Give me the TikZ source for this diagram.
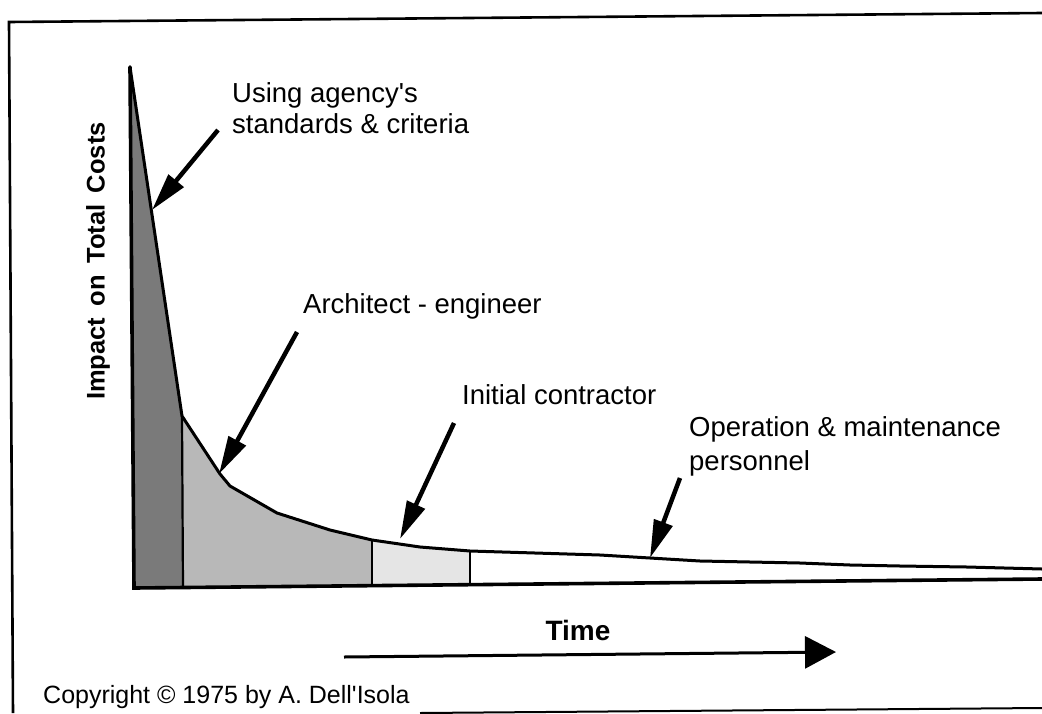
\documentclass[tikz,border=0pt]{standalone}
\usepackage{fontspec}
\setmainfont{Liberation Sans}
\usetikzlibrary{arrows.meta}
\begin{document}
\begin{tikzpicture}[x=1pt,y=-1pt,
  lbl/.style={anchor=base west, inner sep=0pt, font=\fontsize{27.5}{33}\selectfont},
  callout/.style={line width=4.5pt, -{Triangle[length=38pt,width=19pt]}},
  frameline/.style={line width=2.6pt},
  axisline/.style={line width=3.6pt, line cap=round},
  curveline/.style={line width=3pt, line join=round},
  divider/.style={line width=2.2pt},
  darkfill/.style={fill=black!52},
  midfill/.style={fill=black!28},
  lightfill/.style={fill=black!10}
]
\useasboundingbox (0,0) rectangle (1042,713);

% frame
\coordinate (ftl) at (9,22);
\coordinate (ftr) at (1042,13);
\coordinate (fbl) at (13,713);
\coordinate (fbs) at (420,713);
\coordinate (fbr) at (1042,708);
\draw[frameline] (ftr) -- (ftl) -- (fbl);
\draw[line width=2pt] (fbs) -- (fbr);

% curve points
\coordinate (peak) at (130,67);
\coordinate (k1) at (182,416);
\coordinate (c1) at (220,474);
\coordinate (c2) at (230,486);
\coordinate (c3) at (277,513);
\coordinate (c4) at (330,530);
\coordinate (k2) at (372,540);
\coordinate (c5) at (420,547);
\coordinate (k3) at (470,551);
\coordinate (c6) at (600,555);
\coordinate (c7) at (650,558);
\coordinate (c8) at (700,561);
\coordinate (c9) at (750,562);
\coordinate (c10) at (800,563);
\coordinate (c11) at (850,565);
\coordinate (c12) at (900,566);
\coordinate (c13) at (967,567);
\coordinate (cend) at (1042,569);

% axis points
\coordinate (origin) at (134,588);
\coordinate (b1) at (183,587.5);
\coordinate (b2) at (372,585.6);
\coordinate (b3) at (470,584.7);
\coordinate (xend) at (1042,579);

% fills
\fill[darkfill] (peak) -- (k1) -- (b1) -- (origin) -- cycle;
\fill[midfill] (k1) -- (c1) -- (c2) -- (c3) -- (c4) -- (k2) -- (b2) -- (b1) -- cycle;
\fill[lightfill] (k2) -- (c5) -- (k3) -- (b3) -- (b2) -- cycle;

% dividers
\draw[divider] (k1) -- (b1);
\draw[divider] (k2) -- (b2);
\draw[divider] (k3) -- (b3);

% curve
\draw[curveline] (peak) -- (k1) -- (c1) -- (c2) -- (c3) -- (c4) -- (k2) -- (c5) -- (k3) -- (c6) -- (c7) -- (c8) -- (c9) -- (c10) -- (c11) -- (c12) -- (c13) -- (cend);

% axes
\draw[axisline] (peak) -- (origin) -- (xend);

% labels
\node[lbl] (l1a) at (232,102) {Using agency\textquotesingle s};
\node[lbl] (l1b) at (232,133) {standards \& criteria};
\node[lbl] (l2) at (303,313) {Architect - engineer};
\node[lbl] (l3) at (462,404) {Initial contractor};
\node[lbl] (l4a) at (689,436) {Operation \& maintenance};
\node[lbl] (l4b) at (689,470) {personnel};

% callout arrows
\coordinate (t1) at (218,130); \coordinate (h1) at (152,210);
\coordinate (t2) at (297,332); \coordinate (h2) at (219,474);
\coordinate (t3) at (454,423); \coordinate (h3) at (400,539);
\coordinate (t4) at (680,478); \coordinate (h4) at (650,558);
\draw[callout] (t1) -- (h1);
\draw[callout] (t2) -- (h2);
\draw[callout] (t3) -- (h3);
\draw[callout] (t4) -- (h4);

% y label
\node[rotate=90, inner sep=0pt, font=\bfseries\fontsize{25.5}{30}\selectfont] (ylab) at (98,261) {Impact\hspace{0.45em}on\hspace{0.45em}Total\hspace{0.45em}Costs};

% time
\node[anchor=base, inner sep=0pt, font=\bfseries\fontsize{28}{33}\selectfont] (time) at (578,640) {Time};
\coordinate (ts) at (344,657);
\coordinate (te) at (836,652);
\draw[line width=3pt, -{Triangle[length=31pt,width=32pt]}] (ts) -- (te);

% copyright
\node[anchor=base west, inner sep=0pt, font=\fontsize{25}{30}\selectfont] (copy) at (43,703) {Copyright © 1975 by A. Dell\textquotesingle Isola};
\end{tikzpicture}
\end{document}
